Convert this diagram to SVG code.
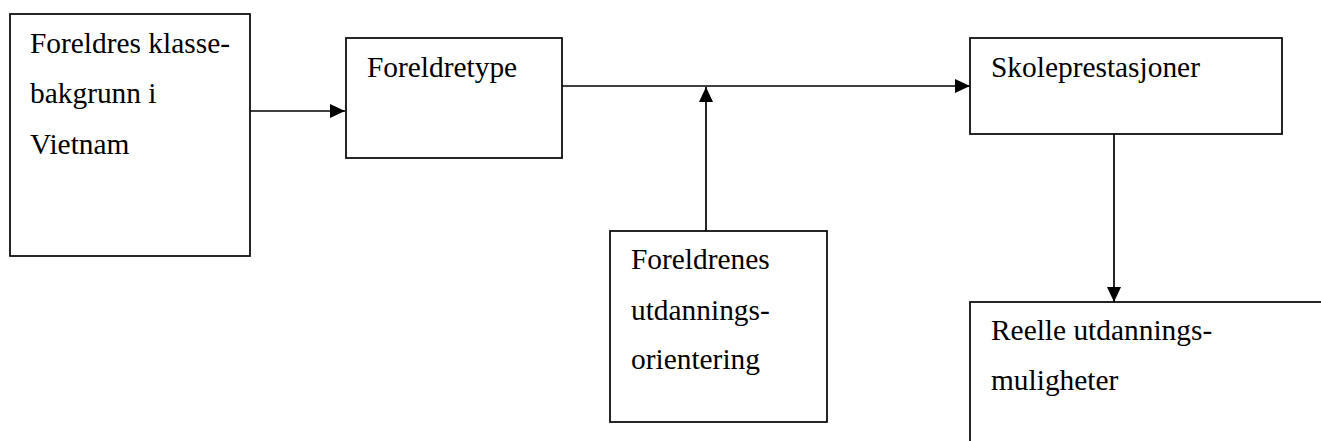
<svg xmlns="http://www.w3.org/2000/svg" width="1321" height="441" viewBox="0 0 1321 441">
<defs>
<style>
.box{fill:#fff;stroke:#000;stroke-width:1.7}
.t{font-family:"Liberation Serif","Times New Roman",serif;font-size:29.4px;fill:#000}
.c{fill:none;stroke:#000;stroke-width:1.7}
</style>
<marker id="ah" viewBox="0 0 15 14" refX="15" refY="7" markerWidth="15" markerHeight="14" markerUnits="userSpaceOnUse" orient="auto">
<path d="M0,0 L15,7 L0,14 Z" fill="#000"/>
</marker>
</defs>
<rect width="1321" height="441" fill="#fff"/>
<g id="connectors">
<line class="c" x1="250" y1="111" x2="345" y2="111" marker-end="url(#ah)"/>
<line class="c" x1="562" y1="86" x2="970" y2="86" marker-end="url(#ah)"/>
<line class="c" x1="706" y1="231" x2="706" y2="87" marker-end="url(#ah)"/>
<line class="c" x1="1114" y1="134" x2="1114" y2="302" marker-end="url(#ah)"/>
</g>
<g id="n1">
<rect class="box" x="10" y="14" width="240" height="242"/>
<text class="t" x="30" y="53">Foreldres klasse-</text>
<text class="t" x="30" y="103">bakgrunn i</text>
<text class="t" x="30" y="154">Vietnam</text>
</g>
<g id="n2">
<rect class="box" x="346" y="38" width="216" height="120"/>
<text class="t" x="367" y="77">Foreldretype</text>
</g>
<g id="n3">
<rect class="box" x="970" y="38" width="312" height="96"/>
<text class="t" x="991" y="77">Skoleprestasjoner</text>
</g>
<g id="n4">
<rect class="box" x="610" y="231" width="217" height="191"/>
<text class="t" x="631" y="269">Foreldrenes</text>
<text class="t" x="631" y="320">utdannings-</text>
<text class="t" x="631" y="369">orientering</text>
</g>
<g id="n5">
<rect class="box" x="970" y="302" width="360" height="160"/>
<text class="t" x="991" y="340">Reelle utdannings-</text>
<text class="t" x="991" y="390">muligheter</text>
</g>
</svg>
